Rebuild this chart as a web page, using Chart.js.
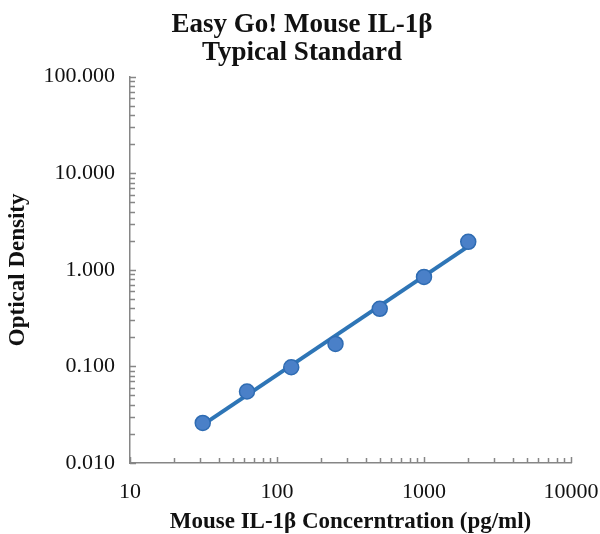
<!DOCTYPE html>
<html>
<head>
<meta charset="utf-8">
<script src="https://cdn.jsdelivr.net/npm/chart.js@4.4.0/dist/chart.umd.min.js"></script>
<style>
  html, body { margin: 0; padding: 0; background: #fff; }
  #wrap { width: 600px; height: 534px; }
</style>
</head>
<body>
<div id="wrap"><canvas id="myChart" width="600" height="534"></canvas></div>
<script>
var concentrations = [31.25, 62.5, 125, 250, 500, 1000, 2000];
var densities = [0.026, 0.055, 0.098, 0.171, 0.395, 0.845, 1.95];
var trendX = [31.25, 2000];
var trendY = [0.0248, 1.75];
var xTickValues = [10, 100, 1000, 10000];
var yTickValues = [0.01, 0.1, 1, 10, 100];

function logTicks(min, max) {
  var out = [];
  for (var p = Math.log10(min); p < Math.log10(max) - 1e-9; p++) {
    var base = Math.pow(10, p);
    for (var m = 1; m < 10; m++) out.push({ value: base * m, major: m === 1 });
  }
  out.push({ value: max, major: true });
  return out;
}

var serif = "'Liberation Serif', 'Times New Roman', serif";

var insideTicks = {
  id: 'insideTicks',
  afterDraw: function(chart) {
    var c = chart.ctx, x = chart.scales.x, y = chart.scales.y;
    c.save();
    c.strokeStyle = '#868686';
    c.lineWidth = 1.5;
    c.beginPath();
    logTicks(10, 10000).forEach(function(t) {
      var px = Math.round(x.getPixelForValue(t.value)) + 0.5;
      c.moveTo(px, y.bottom);
      c.lineTo(px, y.bottom - (t.major ? 6 : 5));
    });
    logTicks(0.01, 100).forEach(function(t) {
      var py = Math.round(y.getPixelForValue(t.value)) + 0.5;
      c.moveTo(x.left, py);
      c.lineTo(x.left + (t.major ? 6 : 5), py);
    });
    c.stroke();
    c.restore();
  }
};

var ctx = document.getElementById('myChart').getContext('2d');
var myChart = new Chart(ctx, {
  type: 'scatter',
  data: {
    datasets: [{
      label: 'Trend',
      data: trendX.map(function(v, i) { return { x: v, y: trendY[i] }; }),
      showLine: true,
      borderColor: '#2e75b6',
      borderWidth: 4,
      pointRadius: 0,
      order: 2
    }, {
      label: 'Standard',
      data: concentrations.map(function(v, i) { return { x: v, y: densities[i] }; }),
      backgroundColor: '#4a80c8',
      borderColor: '#2f6cb3',
      borderWidth: 1.5,
      pointRadius: 7.5,
      order: 1
    }]
  },
  options: {
    responsive: false,
    animation: false,
    layout: { padding: { left: 4, right: 0, top: 0, bottom: 0 } },
    plugins: {
      legend: { display: false },
      tooltip: { enabled: false },
      title: {
        display: true,
        text: ['Easy Go! Mouse IL-1\u03b2', 'Typical Standard'],
        color: '#111',
        font: { family: serif, size: 27, weight: 'bold', lineHeight: 1.05 },
        padding: { top: 11, bottom: 9 }
      }
    },
    scales: {
      x: {
        type: 'logarithmic',
        min: 10, max: 10000,
        afterBuildTicks: function(s) { s.ticks = xTickValues.map(function(v) { return { value: v }; }); },
        afterFit: function(s) { s.height = 71; s.paddingRight = 29; },
        ticks: {
          color: '#111',
          font: { family: serif, size: 22 },
          padding: 8,
          maxRotation: 0,
          callback: function(v) { return String(v); }
        },
        grid: { display: false },
        border: { display: true, color: '#868686', width: 1.5 },
        title: {
          display: true,
          text: 'Mouse IL-1\u03b2 Concerntration (pg/ml)',
          color: '#111',
          font: { family: serif, size: 23, weight: 'bold', lineHeight: 1 },
          padding: { top: 0, bottom: 0 }
        }
      },
      y: {
        type: 'logarithmic',
        min: 0.01, max: 100,
        afterBuildTicks: function(s) { s.ticks = yTickValues.map(function(v) { return { value: v }; }); },
        afterFit: function(s) { s.width = 126; },
        ticks: {
          color: '#111',
          font: { family: serif, size: 22 },
          padding: 7,
          callback: function(v) { return Number(v).toFixed(3); }
        },
        grid: { display: false },
        border: { display: true, color: '#868686', width: 1.5 },
        title: {
          display: true,
          text: 'Optical Density',
          color: '#111',
          font: { family: serif, size: 23, weight: 'bold', lineHeight: 1.2 },
          padding: { top: 0, bottom: 0 }
        }
      }
    }
  },
  plugins: [insideTicks]
});
</script>
</body>
</html>
